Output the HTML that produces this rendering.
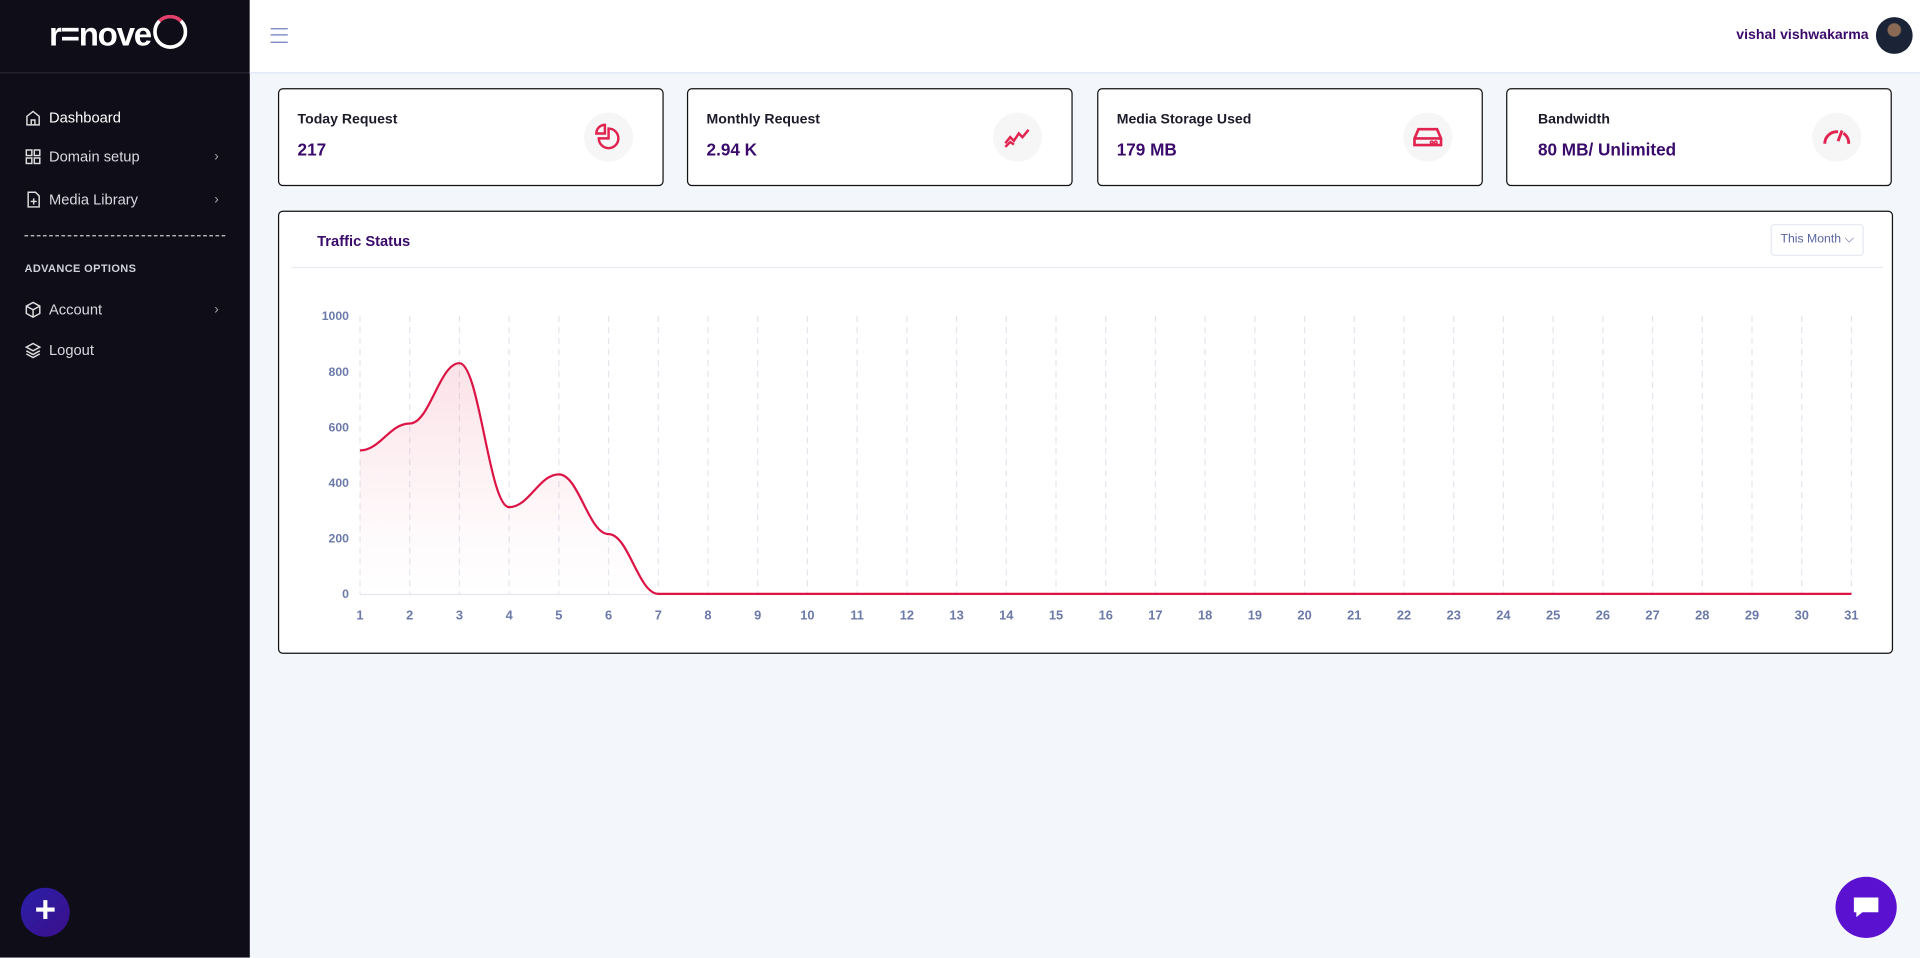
<!DOCTYPE html>
<html><head><meta charset="utf-8">
<style>
html,body{margin:0;padding:0;width:1920px;height:957px;overflow:hidden;background:#f3f6fa;font-family:"Liberation Sans",sans-serif}
#wrap{position:absolute;left:0;top:0;width:1568px;height:782px;transform:scale(1.22449);transform-origin:0 0;background:#f3f6fa}
.abs{position:absolute}
#side{left:0;top:0;width:204px;height:782px;background:#0e0d18}
.mi{position:absolute;left:20px;color:#d8d8e0;font-size:12px;display:flex;align-items:center;gap:6px}
.mi svg{width:14px;height:14px}
.chev{position:absolute;left:175px;color:#aaa;font-size:11px}
.card{position:absolute;top:72px;height:78px;width:313px;background:#fff;border:1px solid #111;border-radius:4px}
.card .t{position:absolute;left:15px;top:19px;font-size:11.5px;font-weight:bold;color:#1b1b2a}
.card .v{position:absolute;left:15px;top:41px;font-size:14px;font-weight:bold;color:#3a0a6b}
.card .ic{position:absolute;right:24px;top:19px;width:40px;height:40px;border-radius:50%;background:#f6f6f7;display:flex;align-items:center;justify-content:center}
</style></head><body>
<div id="wrap">
<div id="side" class="abs">
 <div class="abs" style="left:40px;top:12px;color:#fff;font-size:27px;font-weight:bold;letter-spacing:-1px">r=nove<span style="display:inline-block;width:22px;height:22px;border:3.5px solid #fff;border-radius:50%;vertical-align:-3px;margin-left:2px;border-top-color:#e0406a"></span></div>
 <div class="abs" style="left:0;top:59px;width:204px;border-top:1px solid #2a2a36"></div>
 <div class="mi" style="top:89px;color:#fff"><svg viewBox="0 0 14 14" fill="none" stroke="#ddd" stroke-width="1.2"><path d="M2 6L7 2l5 4v7H2z M5.5 13V9h3v4"/></svg>Dashboard</div>
 <div class="mi" style="top:121px"><svg viewBox="0 0 14 14" fill="none" stroke="#ddd" stroke-width="1.2"><rect x="1.5" y="1.5" width="4.5" height="4.5"/><rect x="8" y="1.5" width="4.5" height="4.5"/><rect x="1.5" y="8" width="4.5" height="4.5"/><rect x="8" y="8" width="4.5" height="4.5"/></svg>Domain setup</div>
 <div class="chev" style="top:122px">›</div>
 <div class="mi" style="top:156px"><svg viewBox="0 0 14 14" fill="none" stroke="#ddd" stroke-width="1.2"><path d="M3 1h6l3 3v9H3z M7.5 6v5 M5 8.5h5"/></svg>Media Library</div>
 <div class="chev" style="top:157px">›</div>
 <div class="abs" style="left:20px;top:192px;width:164px;border-top:1px dashed #ccc"></div>
 <div class="abs" style="left:20px;top:214px;color:#cfd0da;font-size:9px;font-weight:bold;letter-spacing:.3px">ADVANCE OPTIONS</div>
 <div class="mi" style="top:246px"><svg viewBox="0 0 14 14" fill="none" stroke="#ddd" stroke-width="1.2"><path d="M7 1l5.5 3v6L7 13 1.5 10V4z M1.5 4L7 7l5.5-3 M7 7v6"/></svg>Account</div>
 <div class="chev" style="top:247px">›</div>
 <div class="mi" style="top:279px"><svg viewBox="0 0 14 14" fill="none" stroke="#ddd" stroke-width="1.2"><path d="M7 1.5l5.5 3L7 7.5 1.5 4.5z M1.5 7.5L7 10.5l5.5-3 M1.5 10L7 13l5.5-3"/></svg>Logout</div>
 <div class="abs" style="left:17px;top:725px;width:40px;height:40px;border-radius:50%;background:linear-gradient(135deg,#2a1fa8,#3b0f8a);color:#fff;font-size:30px;line-height:38px;text-align:center;font-weight:bold">+</div>
</div>
<div class="abs" style="left:204px;top:0;width:1364px;height:59px;background:#fff;border-bottom:1px solid #dde6f5">
 <div class="abs" style="left:17px;top:23px;width:14px;height:10px;border-top:1.5px solid #6b7ac0;border-bottom:1.5px solid #6b7ac0"><div style="margin-top:4px;border-top:1.5px solid #6b7ac0"></div></div>
 <div class="abs" style="right:42px;top:23px;font-size:11.5px;font-weight:bold;color:#3a0a6b">vishal vishwakarma</div>
 <div class="abs" style="right:6px;top:14px;width:30px;height:30px;border-radius:50%;background:radial-gradient(circle at 50% 35%,#8a6a55 0 5px,#1a2436 6px);overflow:hidden"></div>
</div>
<div class="card" style="left:227px"><div class="t">Today Request</div><div class="v">217</div><div class="ic"><svg width="24" height="24" viewBox="0 0 24 24" fill="none" stroke="#e0234f" stroke-width="2"><path d="M12 5a8 8 0 1 1-8 8h8z"/><path d="M9 2v7H2a7 7 0 0 1 7-7z"/></svg></div></div>
<div class="card" style="left:561px"><div class="t">Monthly Request</div><div class="v">2.94 K</div><div class="ic"><svg width="24" height="24" viewBox="0 0 24 24" fill="none" stroke="#e0234f" stroke-width="2"><path d="M2 17l4-5 3 3 4-6 3 3 5-6"/><path d="M2 20l4-4 3 2"/></svg></div></div>
<div class="card" style="left:896px"><div class="t">Media Storage Used</div><div class="v">179 MB</div><div class="ic"><svg width="26" height="26" viewBox="0 0 24 24" fill="none" stroke="#e0234f" stroke-width="2"><path d="M2 13l3-7h14l3 7v5H2z M2 13h20"/><circle cx="15" cy="16" r=".6"/><circle cx="18" cy="16" r=".6"/></svg></div></div>
<div class="card" style="left:1230px"><div class="t" style="left:25px">Bandwidth</div><div class="v" style="left:25px">80 MB/ Unlimited</div><div class="ic"><svg width="26" height="26" viewBox="0 0 24 24" fill="none" stroke="#e0234f" stroke-width="2.2"><path d="M3 17a9 9 0 0 1 10-9"/><path d="M16 7l-3 8 M17 9a9 9 0 0 1 4 8"/></svg></div></div>
<div class="abs" style="left:227px;top:172px;width:1317px;height:360px;background:#fff;border:1px solid #111;border-radius:4px">
 <div class="abs" style="left:31px;top:17px;font-size:12px;font-weight:bold;color:#3a0a6b">Traffic Status</div>
 <div class="abs" style="left:1218px;top:10px;width:74px;height:24px;border:1px solid #e3e7f0;border-radius:3px;font-size:10px;color:#5a66a0;line-height:24px;text-align:center">This Month ⌵</div>
 <div class="abs" style="left:10px;top:45px;width:1300px;border-top:1px solid #e8ebf2"></div>
</div>
<svg class="abs" id="chart" style="left:0;top:0" width="1568" height="782"></svg>
<div class="abs" style="left:1499px;top:716px;width:50px;height:50px;border-radius:50%;background:#5a12d0;display:flex;align-items:center;justify-content:center"><svg width="24" height="22" viewBox="0 0 24 22"><path d="M2 3h20v12H9l-5 4v-4H2z" fill="#fff"/></svg></div>
</div>
<script>
const days=[1,2,3,4,5,6,7,8,9,10,11,12,13,14,15,16,17,18,19,20,21,22,23,24,25,26,27,28,29,30,31];
const traffic=[516,613,830,312,430,215,0,0,0,0,0,0,0,0,0,0,0,0,0,0,0,0,0,0,0,0,0,0,0,0,0];
const yTicks=[0,200,400,600,800,1000];
const NS='http://www.w3.org/2000/svg';
const svg=document.getElementById('chart');
const X=d=>294+(d-1)*(1512-294)/30;
const Y=v=>485-v*(485-258)/1000;
function mk(t,a){const e=document.createElementNS(NS,t);for(const k in a)e.setAttribute(k,a[k]);svg.appendChild(e);return e;}
const defs=mk('defs',{});
defs.innerHTML='<linearGradient id="g" x1="0" y1="0" x2="0" y2="1"><stop offset="0" stop-color="#e0234f" stop-opacity=".13"/><stop offset="0.75" stop-color="#e0234f" stop-opacity=".02"/><stop offset="1" stop-color="#e0234f" stop-opacity="0"/></linearGradient>';
days.forEach(d=>{const l=mk('line',{x1:X(d),x2:X(d),y1:258,y2:485,stroke:'#e4e6ee','stroke-dasharray':'5 4'});

const t=mk('text',{x:X(d),y:506,'text-anchor':'middle','font-size':'10.5','font-weight':'bold',fill:'#6b7aa8','font-family':'Liberation Sans'});t.textContent=d;
});
yTicks.forEach(v=>{const t=mk('text',{x:285,y:Y(v)+3.5,'text-anchor':'end','font-size':'10','font-weight':'bold',fill:'#6b7aa8','font-family':'Liberation Sans'});t.textContent=v;
});
const base=mk('line',{x1:294,x2:1512,y1:485.5,y2:485.5,stroke:'#e3e6ef'});

const px=days.map(X),py=traffic.map(Y),n=px.length;
let p='M'+px[0]+','+py[0];
for(let i=0;i<n-1;i++){const h=(px[i+1]-px[i])*0.4;p+=' C'+(px[i]+h)+','+py[i]+' '+(px[i+1]-h)+','+py[i+1]+' '+px[i+1]+','+py[i+1];}
const area=mk('path',{d:p+' L'+px[n-1]+','+Y(0)+' L'+px[0]+','+Y(0)+'Z',fill:'url(#g)'});

const line=mk('path',{d:p,fill:'none',stroke:'#dc1445','stroke-width':'1.8'});

</script>
</body></html>
